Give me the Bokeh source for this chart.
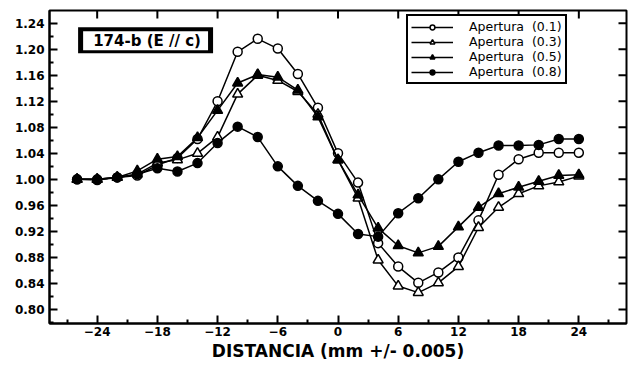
from bokeh.plotting import figure
from bokeh.models import (Range1d, FixedTicker, LinearAxis, NumeralTickFormatter,
                          Legend, LegendItem, BoxAnnotation, Label)
from bokeh.embed import file_html
from bokeh.resources import INLINE

# ---- data ----
x = [-26, -24, -22, -20, -18, -16, -14, -12, -10, -8, -6, -4, -2,
     0, 2, 4, 6, 8, 10, 12, 14, 16, 18, 20, 22, 24]

ap01 = [1.000, 1.000, 1.003, 1.006, 1.022, 1.033, 1.062, 1.120, 1.196, 1.216, 1.201, 1.162, 1.110,
        1.040, 0.995, 0.902, 0.866, 0.841, 0.857, 0.880, 0.937, 1.007, 1.031, 1.041, 1.041, 1.041]
ap03 = [1.000, 1.000, 1.003, 1.008, 1.025, 1.030, 1.040, 1.065, 1.131, 1.160, 1.152, 1.135, 1.100,
        1.030, 0.971, 0.876, 0.836, 0.826, 0.841, 0.866, 0.926, 0.957, 0.978, 0.990, 0.996, 1.005]
ap05 = [1.000, 1.000, 1.003, 1.013, 1.031, 1.035, 1.064, 1.106, 1.148, 1.161, 1.157, 1.137, 1.096,
        1.030, 0.976, 0.925, 0.898, 0.887, 0.897, 0.927, 0.957, 0.978, 0.988, 0.997, 1.006, 1.007]
ap08 = [1.000, 0.999, 1.003, 1.008, 1.017, 1.012, 1.025, 1.056, 1.081, 1.065, 1.020, 0.990, 0.967,
        0.947, 0.916, 0.912, 0.948, 0.971, 1.000, 1.027, 1.041, 1.052, 1.052, 1.053, 1.062, 1.062]

series_labels = ["Apertura  (0.1)", "Apertura  (0.3)", "Apertura  (0.5)", "Apertura  (0.8)"]

x_ticks = [-24, -18, -12, -6, 0, 6, 12, 18, 24]
x_minor = [-27, -21, -15, -9, -3, 3, 9, 15, 21, 27]
y_ticks = [0.80, 0.84, 0.88, 0.92, 0.96, 1.00, 1.04, 1.08, 1.12, 1.16, 1.20, 1.24]
y_minor = [0.78, 0.82, 0.86, 0.90, 0.94, 0.98, 1.02, 1.06, 1.10, 1.14, 1.18, 1.22]

x_title = "DISTANCIA (mm +/- 0.005)"
box_text = "174-b   (E // c)"

FONT = "DejaVu Sans"
X0, X1 = -28.75, 28.75
Y0, Y1 = 0.7785, 1.2595

p = figure(width=630, height=365, output_backend="svg", toolbar_location=None,
           x_range=Range1d(X0, X1), y_range=Range1d(Y0, Y1),
           min_border_left=49, min_border_right=4, min_border_top=10, min_border_bottom=42,
           x_axis_location=None, y_axis_location=None)
p.grid.visible = False
p.outline_line_color = "black"
p.outline_line_width = 2
p.background_fill_color = "white"
p.border_fill_color = "white"


def style_axis(ax, ticks, minor):
    ax.ticker = FixedTicker(ticks=ticks, minor_ticks=minor)
    ax.axis_line_color = "black"
    ax.axis_line_width = 2
    ax.major_tick_in = 8
    ax.major_tick_out = 0
    ax.major_tick_line_width = 2
    ax.minor_tick_in = 4
    ax.minor_tick_out = 0
    ax.minor_tick_line_width = 2
    ax.major_label_text_font = FONT
    ax.major_label_text_font_style = "bold"
    ax.major_label_text_font_size = "12px"
    ax.major_label_text_color = "black"


xb = LinearAxis()
style_axis(xb, x_ticks, x_minor)
xb.major_label_standoff = 3
xb.axis_label = x_title
xb.axis_label_text_font = FONT
xb.axis_label_text_font_style = "bold"
xb.axis_label_text_font_size = "17px"
xb.axis_label_text_color = "black"
xb.axis_label_standoff = 2
p.add_layout(xb, "below")

yl = LinearAxis()
style_axis(yl, y_ticks, y_minor)
yl.formatter = NumeralTickFormatter(format="0.00")
yl.major_label_standoff = 5
p.add_layout(yl, "left")

# mirrored major ticks on the top and right frame edges
dy = 8 / 650.7
dx = 8 / 10.035
p.segment(x0=x_ticks, x1=x_ticks, y0=[Y1] * len(x_ticks), y1=[Y1 - dy] * len(x_ticks),
          line_color="black", line_width=2)
p.segment(x0=[X1] * len(y_ticks), x1=[X1 - dx] * len(y_ticks), y0=y_ticks, y1=y_ticks,
          line_color="black", line_width=2)

items = []
specs = [
    (ap01, "circle", "white", 9),
    (ap03, "triangle", "white", 10),
    (ap05, "triangle", "black", 10),
    (ap08, "circle", "black", 9),
]
for ys, marker, fill, size in specs:
    ln = p.line(x, ys, line_color="black", line_width=1.5)
    sc = p.scatter(x, ys, marker=marker, size=size, fill_color=fill,
                   line_color="black", line_width=1.5)
    items.append((ln, sc))

legend = Legend(items=[LegendItem(label=lab, renderers=[ln, sc])
                       for lab, (ln, sc) in zip(series_labels, items)],
                location=(357, 239))
legend.border_line_color = "black"
legend.border_line_alpha = 1
legend.border_line_width = 2
legend.background_fill_color = "white"
legend.background_fill_alpha = 1
legend.padding = 3
legend.spacing = 0
legend.margin = 0
legend.glyph_width = 42
legend.glyph_height = 12
legend.label_height = 12
legend.label_standoff = 16
legend.label_text_font = FONT
legend.label_text_font_size = "12.5px"
legend.label_text_color = "black"
p.add_layout(legend, "center")

# label box in upper left
outer = BoxAnnotation(left=-25.9, right=-12.45, top=1.2336, bottom=1.1937,
                      fill_color="black", fill_alpha=1, line_color=None)
inner = BoxAnnotation(left=-25.4, right=-12.95, top=1.2275, bottom=1.1985,
                      fill_color="white", fill_alpha=1, line_color=None)
p.add_layout(outer)
p.add_layout(inner)
p.add_layout(Label(x=-24.4, y=1.213, text=box_text, text_font=FONT,
                   text_font_style="bold", text_font_size="15px",
                   text_baseline="middle", text_color="black"))

open("out.html", "w").write(file_html(p, INLINE))
